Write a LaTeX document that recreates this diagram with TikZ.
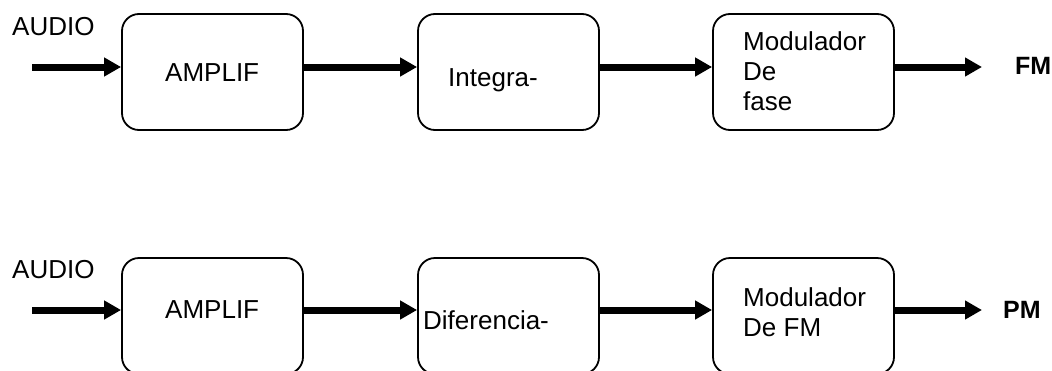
\documentclass[tikz,border=0pt]{standalone}
\usepackage{fontspec}
\setmainfont{Liberation Sans}
\usetikzlibrary{arrows.meta}
\begin{document}
\begin{tikzpicture}[x=1pt,y=-1pt,
  blk/.style={draw, line width=1.8pt, rounded corners=17pt, minimum width=181pt, minimum height=116pt, inner sep=0pt},
  lbl/.style={inner sep=0pt, font=\fontsize{26}{30}\selectfont},
  lblb/.style={lbl, font=\fontsize{25}{30}\selectfont\bfseries},
  arr/.style={line width=7pt, -{Triangle[length=17pt,width=18pt]}}]
\useasboundingbox (0,0) rectangle (1052,370);
% ---- top row
\node[blk] (amp1) at (212.5,72) {};
\node[blk] (int1) at (508.5,72) {};
\node[blk] (mod1) at (803.5,72) {};
\coordinate (in1) at (32,67);
\coordinate (out1) at (982,67);
\node[lbl, anchor=base west] (audio1) at (12,35) {AUDIO};
\node[lbl, anchor=base west] (tamp1) at (165,81) {AMPLIF};
\node[lbl, anchor=base west] (tint1) at (448,86) {Integra-};
\node[lbl, anchor=north west, align=left] (tmod1) at (743,31) {Modulador\\De\\fase};
\node[lblb, anchor=west] (fm) at (1015,66) {FM};
\draw[arr] (in1) -- (in1 -| amp1.west);
\draw[arr] (amp1.east |- in1) -- (int1.west |- in1);
\draw[arr] (int1.east |- in1) -- (mod1.west |- in1);
\draw[arr] (mod1.east |- in1) -- (out1);
% ---- bottom row
\node[blk] (amp2) at (212.5,316) {};
\node[blk] (dif2) at (508.5,316) {};
\node[blk] (mod2) at (803.5,316) {};
\coordinate (in2) at (32,310);
\coordinate (out2) at (982,310);
\node[lbl, anchor=base west] (audio2) at (12,278) {AUDIO};
\node[lbl, anchor=base west] (tamp2) at (165,318) {AMPLIF};
\node[lbl, anchor=base west] (tdif2) at (423,329) {Diferencia-};
\node[lbl, anchor=north west, align=left] (tmod2) at (743,287) {Modulador\\De FM};
\node[lblb, anchor=west] (pm) at (1003,310) {PM};
\draw[arr] (in2) -- (in2 -| amp2.west);
\draw[arr] (amp2.east |- in2) -- (dif2.west |- in2);
\draw[arr] (dif2.east |- in2) -- (mod2.west |- in2);
\draw[arr] (mod2.east |- in2) -- (out2);
\end{tikzpicture}
\end{document}
